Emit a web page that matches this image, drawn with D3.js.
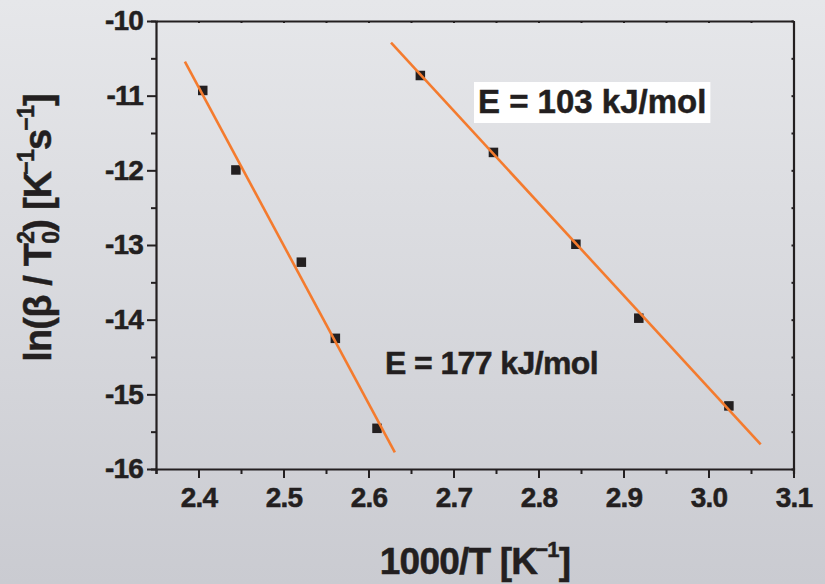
<!DOCTYPE html>
<html>
<head>
<meta charset="utf-8">
<script src="https://cdn.jsdelivr.net/npm/d3@7"></script>
<style>
	body { margin: 0; }
	svg { display: block; font-family: "Liberation Sans", Arial, sans-serif; font-weight: bold; }
	text { stroke: #231f20; stroke-width: 0.5px; }
</style>
</head>
<body>

<svg width="825" height="584"></svg>

<script>

	// measured points, 1000/T vs ln(beta/T0^2)
	var xLow = [2.405, 2.444, 2.521, 2.561, 2.610];
	var yLow = [-10.93, -11.995, -13.23, -14.25, -15.455];
	var xHigh = [2.661, 2.747, 2.844, 2.918, 3.024];
	var yHigh = [-10.73, -11.76, -12.99, -13.98, -15.155];

	// fitted lines (end points)
	var fitLowX = [2.384, 2.631];
	var fitLowY = [-10.545, -15.776];
	var fitHighX = [2.6265, 3.0614];
	var fitHighY = [-10.29, -15.669];

	var xTicks = [2.4, 2.5, 2.6, 2.7, 2.8, 2.9, 3.0, 3.1];
	var xMinor = [2.35, 2.45, 2.55, 2.65, 2.75, 2.85, 2.95, 3.05];
	var yTicks = [-10, -11, -12, -13, -14, -15, -16];
	var yMinor = [-10.5, -11.5, -12.5, -13.5, -14.5, -15.5];

	var labels = ["E = 177 kJ/mol", "E = 103 kJ/mol"];
	var labelX = [2.6194, 2.7288];
	var labelY = [-14.727, -11.232];

	var svg = d3.select("svg");
	var ink = "#231f20";
	var orange = "#f47b2e";

	// background
	var grad = svg.append("defs").append("linearGradient")
		.attr("id", "bg").attr("x1", 0).attr("y1", 0).attr("x2", 0).attr("y2", 1);
	grad.append("stop").attr("offset", "0%").attr("stop-color", "#e6e7ea");
	grad.append("stop").attr("offset", "100%").attr("stop-color", "#cacbd1");
	svg.append("rect").attr("width", 825).attr("height", 584).attr("fill", "url(#bg)");

	var x = d3.scaleLinear().domain([2.35, 3.1]).range([156, 793.5]);
	var y = d3.scaleLinear().domain([-10, -16]).range([21, 469]);

	function styleAxis(g) {
		g.selectAll("path.domain").attr("stroke", ink).attr("stroke-width", 2.2);
		g.selectAll(".tick line").attr("stroke", ink).attr("stroke-width", 2);
		g.selectAll("text").attr("fill", ink).attr("font-size", 28).attr("font-weight", "bold")
			.attr("letter-spacing", -0.8)
			.attr("font-family", "Liberation Sans, Arial, sans-serif");
	}

	// bottom axis
	svg.append("g").attr("transform", "translate(0," + y(-16) + ")")
		.call(d3.axisBottom(x).tickValues(xMinor).tickSize(5).tickFormat(""))
		.call(styleAxis);
	var bx = svg.append("g").attr("transform", "translate(0," + y(-16) + ")")
		.call(d3.axisBottom(x).tickValues(xTicks).tickSize(9).tickPadding(9).tickFormat(d3.format(".1f")))
		.call(styleAxis);
	bx.select("path.domain").remove();

	// left axis
	svg.append("g").attr("transform", "translate(" + x(2.35) + ",0)")
		.call(d3.axisLeft(y).tickValues(yMinor).tickSize(5).tickFormat(""))
		.call(styleAxis);
	var ly = svg.append("g").attr("transform", "translate(" + x(2.35) + ",0)")
		.call(d3.axisLeft(y).tickValues(yTicks).tickSize(9).tickPadding(4).tickFormat(d3.format("d")))
		.call(styleAxis);
	ly.select("path.domain").remove();
	ly.selectAll("text").text(function(d) { return "-" + Math.abs(d); });

	// top and right axes, inward small ticks
	svg.append("g").attr("transform", "translate(0," + y(-10) + ")")
		.call(d3.axisBottom(x).tickValues(xTicks.concat(xMinor)).tickSize(2).tickSizeOuter(0).tickFormat(""))
		.call(styleAxis);
	svg.append("g").attr("transform", "translate(" + x(3.1) + ",0)")
		.call(d3.axisLeft(y).tickValues(yTicks.concat(yMinor)).tickSize(2).tickSizeOuter(0).tickFormat(""))
		.call(styleAxis);

	// points
	var s = 9.5;
	svg.append("g").selectAll("rect")
		.data(d3.zip(xLow.concat(xHigh), yLow.concat(yHigh)))
		.enter().append("rect")
		.attr("x", function(d) { return x(d[0]) - s / 2; })
		.attr("y", function(d) { return y(d[1]) - s / 2; })
		.attr("width", s).attr("height", s)
		.attr("fill", ink);

	// fits
	var line = d3.line().x(function(d) { return x(d[0]); }).y(function(d) { return y(d[1]); });
	[d3.zip(fitLowX, fitLowY), d3.zip(fitHighX, fitHighY)].forEach(function(pts) {
		svg.append("path").attr("d", line(pts))
			.attr("fill", "none").attr("stroke", orange).attr("stroke-width", 2.6);
	});

	// activation energy labels
	labels.forEach(function(t, i) {
		var txt = svg.append("text")
			.attr("x", x(labelX[i])).attr("y", y(labelY[i]))
			.attr("font-size", i == 1 ? 33 : 32).attr("fill", ink)
			.attr("letter-spacing", i == 1 ? 0 : -0.6)
			.text(t);
		if (i == 1) {
			var b = txt.node().getBBox();
			svg.append("rect")
				.attr("x", b.x - 4).attr("y", y(labelY[i]) - 31)
				.attr("width", b.width + 8).attr("height", 41)
				.attr("fill", "#ffffff");
			txt.raise();
		}
	});

	// x title
	var xt = svg.append("text").attr("x", 475).attr("y", 574)
		.attr("text-anchor", "middle").attr("font-size", 37).attr("fill", ink).attr("letter-spacing", -0.8);
	xt.append("tspan").text("1000/T [K");
	xt.append("tspan").attr("font-size", 22).attr("dy", -17).attr("dx", -2).text("\u22121");
	xt.append("tspan").attr("dy", 17).text("]");

	// y title
	var yt = svg.append("text").attr("transform", "translate(51,228) rotate(-90)")
		.attr("text-anchor", "middle").attr("font-size", 38).attr("fill", ink).attr("letter-spacing", -0.8);
	yt.append("tspan").text("ln(\u03b2 / T");
	yt.append("tspan").attr("font-size", 23).attr("dy", -17).text("2");
	yt.append("tspan").attr("font-size", 23).attr("dx", -12).attr("dy", 25).text("0");
	yt.append("tspan").attr("dy", -8).text(") [K");
	yt.append("tspan").attr("font-size", 23).attr("dy", -17).attr("dx", -3).text("\u22121");
	yt.append("tspan").attr("dy", 17).text("s");
	yt.append("tspan").attr("font-size", 23).attr("dy", -17).attr("dx", -1).text("\u22121");
	yt.append("tspan").attr("dy", 17).text("]");

</script>

</body>
</html>
